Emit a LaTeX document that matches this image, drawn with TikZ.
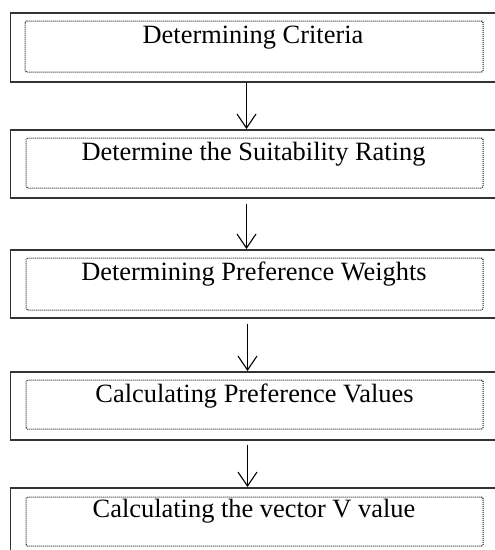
\documentclass[tikz,border=0pt]{standalone}
\usepackage{fontspec}
\setmainfont{Liberation Serif}
\usetikzlibrary{arrows.meta}
\begin{document}
\begin{tikzpicture}[x=1pt,y=-1pt,
  outerbox/.style={draw=black!80,line width=1.5pt,rectangle,inner sep=0pt,anchor=north west},
  innerbox/.style={draw=black!90,line width=1.1pt,dash pattern=on 1pt off 1pt,rectangle,inner sep=0pt,anchor=north west,rounded corners=1.5pt},
  lbl/.style={font=\fontsize{26.4}{31}\selectfont,anchor=base,inner sep=0pt},
  flow/.style={draw=black,line width=1.1pt,-{Straight Barb[length=14pt,width=19pt,line width=1.1pt]}}]
\useasboundingbox (0,0) rectangle (495,550);
\clip (0,0) rectangle (495,550);
\fill[white] (0,0) rectangle (495,550);
% outer boxes
\node[outerbox,minimum width=493pt,minimum height=69pt] (o1) at (9.5,12) {};
\node[outerbox,minimum width=493pt,minimum height=68pt] (o2) at (9.5,129) {};
\node[outerbox,minimum width=493pt,minimum height=68pt] (o3) at (9.5,249) {};
\node[outerbox,minimum width=493pt,minimum height=68pt] (o4) at (9.5,371) {};
\node[outerbox,minimum width=493pt,minimum height=69pt] (o5) at (9.5,487) {};
% inner dotted boxes
\node[innerbox,minimum width=458pt,minimum height=51pt] (i1) at (24.5,20.5) {};
\node[innerbox,minimum width=457pt,minimum height=50pt] (i2) at (25.5,137.5) {};
\node[innerbox,minimum width=457pt,minimum height=52pt] (i3) at (25.5,257.5) {};
\node[innerbox,minimum width=457pt,minimum height=49pt] (i4) at (25.5,379.5) {};
\node[innerbox,minimum width=457pt,minimum height=49pt] (i5) at (25.5,496.5) {};
% labels
\node[lbl] (t1) at (253,43) {Determining Criteria};
\node[lbl] (t2) at (253.5,160) {Determine the Suitability Rating};
\node[lbl] (t3) at (254,280) {Determining Preference Weights};
\node[lbl] (t4) at (254.5,402) {Calculating Preference Values};
\node[lbl] (t5) at (254,517) {Calculating the vector V value};
% connectors
\draw[flow] (o1.south -| 246.5,0) -- (o2.north -| 246.5,0);
\draw[flow,shorten <=5pt] (o2.south -| 246.5,0) -- (o3.north -| 246.5,0);
\draw[flow,shorten <=5pt] (o3.south -| 247.5,0) -- (o4.north -| 247.5,0);
\draw[flow,shorten <=4pt] (o4.south -| 247.5,0) -- (o5.north -| 247.5,0);
\end{tikzpicture}
\end{document}
